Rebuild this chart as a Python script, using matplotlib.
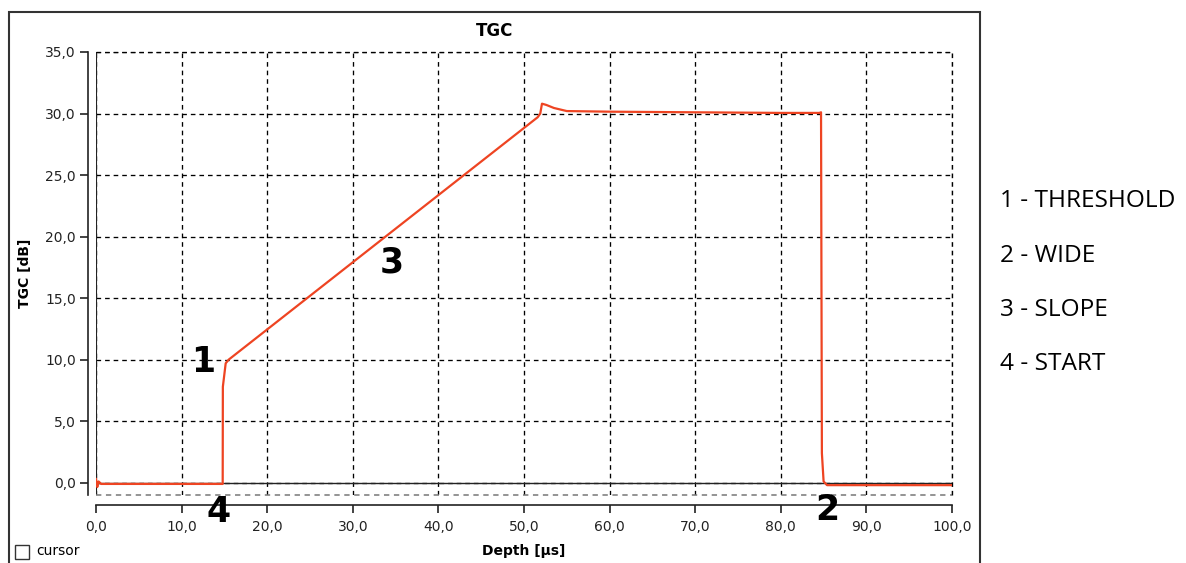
import numpy as np
import matplotlib
matplotlib.use('Agg')
import matplotlib.pyplot as plt
from matplotlib.patches import Rectangle
from matplotlib.ticker import FuncFormatter, MultipleLocator

# TGC curve (depth in us, gain in dB)
depth = [0.0, 0.15, 0.3, 0.6, 14.8, 14.82, 15.15, 15.5, 51.6, 51.9, 52.1,
         52.6, 53.5, 55.0, 60.0, 70.0, 80.0, 84.5, 84.7, 84.8, 85.0, 85.4,
         90.0, 100.0]
tgc = [0.3, -0.35, 0.1, -0.1, -0.1, 7.8, 9.7, 10.0, 29.7, 30.0, 30.8,
       30.7, 30.45, 30.2, 30.15, 30.1, 30.05, 30.05, 30.1, 2.4, 0.1, -0.2,
       -0.2, -0.2]

marks = ['1', '3', '4', '2']
mark_x = [12.5, 34.6, 14.3, 85.4]
mark_y = [9.8, 17.9, -2.4, -2.2]

legend = ['1 - THRESHOLD', '2 - WIDE', '3 - SLOPE', '4 - START']
legend_py = [201, 256, 310, 364]

W, H = 1186, 563
fig = plt.figure(figsize=(W / 100, H / 100), dpi=100)
ax = fig.add_axes([96 / W, 1 - 495 / H, (952 - 96) / W, (495 - 52) / H])

ax.set_xlim(0, 100)
ax.set_ylim(-1, 35)
ax.xaxis.set_major_locator(MultipleLocator(10))
ax.yaxis.set_major_locator(MultipleLocator(5))
fmt = FuncFormatter(lambda v, p: f'{v:.1f}'.replace('.', ','))
ax.xaxis.set_major_formatter(fmt)
ax.yaxis.set_major_formatter(fmt)

for s in ['top', 'right']:
    ax.spines[s].set_visible(False)
ax.spines['left'].set_position(('outward', 5.8))
ax.spines['bottom'].set_position(('outward', 7.2))
ax.spines['left'].set_linewidth(1.2)
ax.spines['bottom'].set_linewidth(1.2)
ax.spines['left'].set_color('#222222')
ax.spines['bottom'].set_color('#222222')
ax.tick_params(length=5.8, width=1.2, color='#222222', labelsize=10,
               labelcolor='#222222', pad=3)
ax.tick_params(axis='x', pad=5)

ax.grid(True, color='black', linestyle=(0, (3.5, 3)), linewidth=0.95)
ax.axvline(0, color='#222222', lw=1.5)
ax.axhline(-1, color='#777777', lw=1.1, ls=(0, (3.5, 3)), clip_on=False)
ax.axhline(0, color='#222222', lw=1.0)
ax.axvline(100, color='black', lw=0.95, ls=(0, (3.5, 3)), clip_on=False)
ax.axhline(35, color='black', lw=0.95, ls=(0, (3.5, 3)), clip_on=False)

ax.plot(depth, tgc, color='#EE4422', lw=1.6, solid_joinstyle='round')

for t, x, y in zip(marks, mark_x, mark_y):
    ax.text(x, y, t, fontsize=25, fontweight='heavy', ha='center',
            va='center', clip_on=False, color='black')

ax.set_xlabel('Depth [µs]', fontsize=10, fontweight='bold')
ax.xaxis.set_label_coords(0.5, -0.11)
fig.text(25 / W, 1 - 273 / H, 'TGC [dB]', rotation=90, fontsize=10,
         fontweight='bold', ha='center', va='center')
fig.text(495 / W, 1 - 31 / H, 'TGC', fontsize=12, fontweight='bold',
         ha='center', va='center')

# outer panel frame
fig.add_artist(Rectangle((9 / W, -0.05), (980 - 9) / W, 1.05 - 12 / H,
                         transform=fig.transFigure, fill=False,
                         edgecolor='#333333', lw=1.5))
# cursor checkbox
fig.add_artist(Rectangle((15 / W, 1 - 559 / H), 14 / W, 14 / H,
                         transform=fig.transFigure, fill=False,
                         edgecolor='#333333', lw=1.0))
fig.text(36 / W, 1 - 551 / H, 'cursor', fontsize=10, va='center', ha='left')

for t, py in zip(legend, legend_py):
    fig.text(1000 / W, 1 - py / H, t, fontsize=17.6, family='Open Sans',
             va='center', ha='left')

fig.savefig('out.png', dpi=100)
